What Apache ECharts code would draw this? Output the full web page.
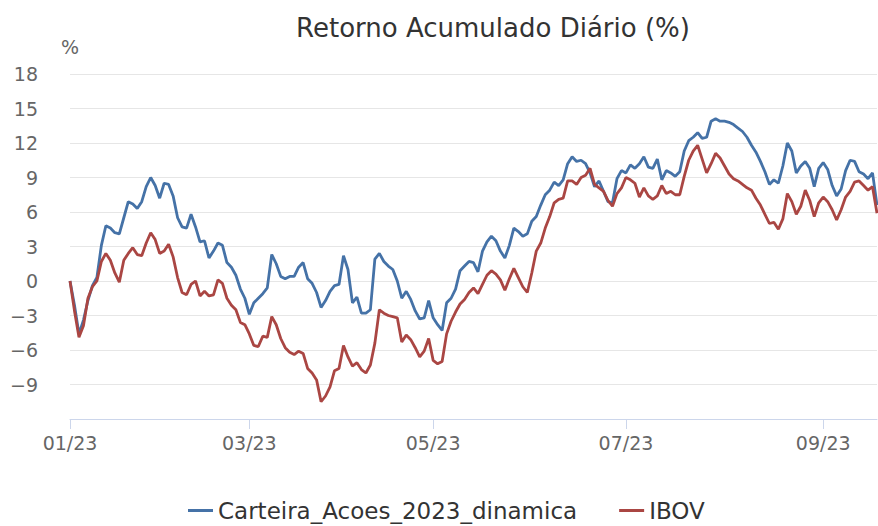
<!DOCTYPE html>
<html>
<head>
<meta charset="utf-8">
<script src="https://cdn.jsdelivr.net/npm/echarts@6/dist/echarts.min.js"></script>
<style>
  html, body { margin: 0; padding: 0; background: #fff; }
  #chart { width: 878px; height: 526px; }
</style>
</head>
<body>
<div id="chart"></div>
<script>
// pregões da B3 sem negociação em 2023 (até setembro)
const holidays = ["2023-02-20", "2023-02-21", "2023-04-07", "2023-04-21", "2023-05-01", "2023-06-08", "2023-09-07"];
const firstDay = "2023-01-02";
const labelMonths = [1, 3, 5, 7, 9];

const seriesNames = ["Carteira_Acoes_2023_dinamica", "IBOV"];
const seriesColors = ["#4572A7", "#AA4643"];

// retorno acumulado (%) por pregão
const carteira = [
    0, -2.1, -4.6, -3.4, -1.7, -0.4, 0.3, 3.1, 4.8, 4.6,
    4.2, 4.1, 5.5, 6.9, 6.7, 6.3, 6.9, 8.2, 9.0, 8.3,
    7.2, 8.5, 8.4, 7.4, 5.5, 4.7, 4.6, 5.8, 4.7, 3.4,
    3.5, 2.0, 2.6, 3.3, 3.1, 1.6, 1.2, 0.5, -0.7, -1.5,
    -2.9, -1.9, -1.5, -1.1, -0.6, 2.3, 1.5, 0.4, 0.2, 0.4,
    0.4, 1.2, 1.6, 0.2, -0.2, -1.0, -2.3, -1.7, -0.9, -0.4,
    -0.3, 2.2, 1.0, -1.9, -1.4, -2.8, -2.8, -2.5, 1.9, 2.4,
    1.7, 1.3, 1.0, 0.0, -1.5, -0.9, -1.6, -2.6, -3.3, -3.2,
    -1.7, -3.2, -3.8, -4.3, -1.9, -1.5, -0.7, 0.9, 1.3, 1.7,
    1.6, 0.8, 2.6, 3.4, 3.9, 3.5, 2.6, 2.0, 3.1, 4.6,
    4.3, 3.9, 4.1, 5.2, 5.6, 6.6, 7.5, 7.9, 8.6, 8.3,
    8.8, 10.2, 10.8, 10.4, 10.5, 10.2, 9.4, 8.2, 8.7, 7.8,
    6.9, 6.8, 8.9, 9.6, 9.4, 10.1, 9.8, 10.2, 10.8, 9.9,
    9.8, 10.6, 8.8, 9.6, 9.4, 9.1, 9.5, 11.3, 12.2, 12.5,
    12.9, 12.4, 12.5, 13.9, 14.1, 13.9, 13.9, 13.8, 13.6, 13.3,
    13.0, 12.5, 11.8, 11.2, 10.4, 9.5, 8.4, 8.8, 8.5, 10.0,
    12.0, 11.3, 9.4, 10.0, 10.4, 9.8, 8.2, 9.8, 10.3, 9.7,
    8.3, 7.4, 8.0, 9.6, 10.5, 10.4, 9.5, 9.3, 8.9, 9.4,
    6.6
];

const ibov = [
    0, -2.6, -4.9, -3.9, -1.5, -0.5, 0.0, 1.7, 2.4, 1.8,
    0.7, -0.1, 1.8, 2.4, 2.9, 2.3, 2.2, 3.3, 4.2, 3.6,
    2.4, 2.6, 3.2, 2.1, 0.3, -1.0, -1.2, -0.3, 0.0, -1.3,
    -0.9, -1.3, -1.2, 0.1, -0.2, -1.5, -2.1, -2.5, -3.6, -3.8,
    -4.6, -5.6, -5.7, -4.8, -4.9, -3.1, -3.8, -5.0, -5.8, -6.2,
    -6.4, -6.1, -6.3, -7.6, -8.0, -8.6, -10.5, -10.0, -9.2, -7.8,
    -7.6, -5.6, -6.6, -7.4, -7.1, -7.7, -8.0, -7.3, -5.4, -2.5,
    -2.8, -3.0, -3.1, -3.2, -5.3, -4.7, -5.1, -5.8, -6.6, -6.1,
    -5.0, -6.9, -7.2, -7.0, -4.6, -3.5, -2.7, -2.0, -1.6, -1.0,
    -0.6, -1.1, -0.3, 0.5, 0.9, 0.6, 0.1, -0.8, 0.2, 1.1,
    0.3, -0.5, -1.0, 0.7, 2.6, 3.3, 4.6, 5.6, 6.8, 7.1,
    7.2, 8.7, 8.7, 8.4, 9.0, 9.2, 9.8, 8.4, 8.1, 7.8,
    7.0, 6.5, 7.6, 8.1, 9.0, 8.8, 8.5, 7.3, 8.1, 7.4,
    7.1, 7.4, 8.3, 7.6, 7.8, 7.5, 7.5, 9.1, 10.5, 11.3,
    11.8, 10.6, 9.4, 10.2, 11.1, 10.7, 10.0, 9.3, 8.9, 8.7,
    8.4, 8.1, 7.9, 7.2, 6.6, 5.8, 5.0, 5.1, 4.5, 5.4,
    7.6, 6.9, 5.8, 6.5, 7.9, 7.0, 5.6, 6.8, 7.3, 6.9,
    6.2, 5.3, 6.2, 7.3, 7.8, 8.6, 8.7, 8.3, 7.9, 8.2,
    5.9
];

const FONT = "DejaVu Sans";

// monta a lista de pregões (dias úteis menos feriados)
function tradingDays(start, count) {
    const out = [];
    const d = new Date(start + "T00:00:00Z");
    while (out.length < count) {
        const iso = d.toISOString().slice(0, 10);
        const wd = d.getUTCDay();
        if (wd !== 0 && wd !== 6 && holidays.indexOf(iso) < 0) out.push(iso);
        d.setUTCDate(d.getUTCDate() + 1);
    }
    return out;
}

const dates = tradingDays(firstDay, carteira.length);

// rótulo só no primeiro pregão dos meses ímpares
function isLabelDay(index) {
    const m = parseInt(dates[index].slice(5, 7));
    if (labelMonths.indexOf(m) < 0) return false;
    return index === 0 || dates[index - 1].slice(5, 7) !== dates[index].slice(5, 7);
}

const chart = echarts.init(document.getElementById("chart"), null, { renderer: "svg" });

chart.setOption({
    animation: false,
    backgroundColor: "#fff",
    title: {
        text: "Retorno Acumulado Diário (%)",
        left: 488,
        textAlign: "center",
        top: 10,
        textStyle: { fontFamily: FONT, fontSize: 26, fontWeight: "normal", color: "#333" }
    },
    grid: { left: 70, right: 1, top: 74, bottom: 107 },
    legend: {
        bottom: -1,
        left: 183,
        icon: "rect",
        itemWidth: 25,
        itemHeight: 3,
        itemGap: 42,
        textStyle: { fontFamily: FONT, fontSize: 23, color: "#333" },
        data: seriesNames
    },
    xAxis: {
        type: "category",
        data: dates,
        boundaryGap: false,
        axisLine: { onZero: false, lineStyle: { color: "#ccd6eb", width: 1 } },
        axisTick: { show: true, interval: isLabelDay, length: 10, lineStyle: { color: "#ccd6eb" } },
        axisLabel: {
            interval: isLabelDay,
            margin: 14,
            color: "#666",
            fontFamily: FONT,
            fontSize: 19,
            formatter: v => v.slice(5, 7) + "/" + v.slice(2, 4)
        },
        splitLine: { show: false }
    },
    yAxis: {
        type: "value",
        min: -12,
        max: 18,
        interval: 3,
        name: "%",
        nameLocation: "end",
        nameGap: 18,
        nameTextStyle: { color: "#666", fontFamily: FONT, fontSize: 19 },
        axisLine: { show: false },
        axisTick: { show: false },
        axisLabel: {
            showMinLabel: false,
            margin: 32,
            color: "#666",
            fontFamily: FONT,
            fontSize: 19,
            formatter: v => String(v).replace("-", "\u2212")
        },
        splitLine: { lineStyle: { color: "#e6e6e6", width: 1 } }
    },
    series: [
        {
            name: seriesNames[0],
            type: "line",
            data: carteira,
            symbol: "none",
            color: seriesColors[0],
            lineStyle: { width: 2.8, color: seriesColors[0] }
        },
        {
            name: seriesNames[1],
            type: "line",
            data: ibov,
            symbol: "none",
            color: seriesColors[1],
            lineStyle: { width: 2.8, color: seriesColors[1] }
        }
    ]
});
</script>
</body>
</html>
